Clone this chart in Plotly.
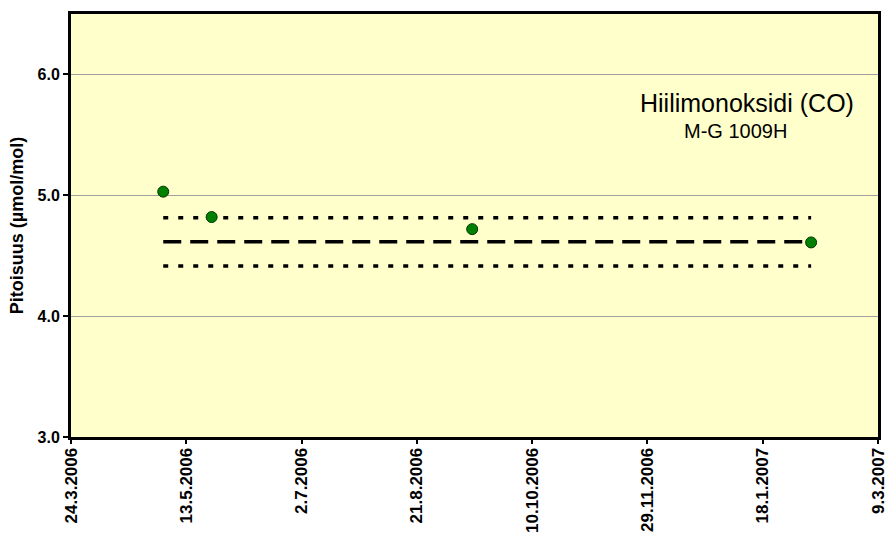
import plotly.graph_objects as go

# Mittaukset
paivat = ["2006-05-03", "2006-05-24", "2006-09-14", "2007-02-08"]
pitoisuus = [5.03, 4.82, 4.72, 4.61]

# Vertailuarvo ja rajat
keskiarvo = 4.615
ylaraja = 4.815
alaraja = 4.415

# x-akselin tikit (49 pv valein)
tick_paivat = ["2006-03-24", "2006-05-13", "2006-07-02", "2006-08-21",
               "2006-10-10", "2006-11-29", "2007-01-18", "2007-03-09"]
tick_tekstit = ["24.3.2006", "13.5.2006", "2.7.2006", "21.8.2006",
                "10.10.2006", "29.11.2006", "18.1.2007", "9.3.2007"]

fig = go.Figure()

alku, loppu = paivat[0], paivat[-1]
for arvo, viiva in [(ylaraja, "5px,10px"), (alaraja, "5px,10px"), (keskiarvo, "18px,9px")]:
    fig.add_trace(go.Scatter(
        x=[alku, loppu], y=[arvo, arvo], mode="lines",
        line=dict(color="black", width=3.5, dash=viiva),
        showlegend=False, hoverinfo="skip"
    ))

fig.add_trace(go.Scatter(
    x=paivat, y=pitoisuus, mode="markers",
    marker=dict(size=11, color="#008000", line=dict(color="#003300", width=1)),
    showlegend=False
))

fig.add_annotation(x=0.838, y=0.79, xref="paper", yref="paper",
                   xanchor="center", yanchor="middle",
                   text="Hiilimonoksidi (CO)", showarrow=False,
                   font=dict(size=25, color="black"))
fig.add_annotation(x=0.823, y=0.723, xref="paper", yref="paper",
                   xanchor="center", yanchor="middle",
                   text="M-G 1009H", showarrow=False,
                   font=dict(size=20, color="black"))

fig.update_layout(
    width=886, height=541,
    margin=dict(l=71, r=8, t=14, b=104),
    paper_bgcolor="white",
    plot_bgcolor="#FFFFCC",
    font=dict(family="Liberation Sans, Arial, sans-serif", color="black"),
    xaxis=dict(
        range=[tick_paivat[0], tick_paivat[-1]],
        tickvals=tick_paivat, ticktext=tick_tekstit,
        tickangle=-90, tickfont=dict(size=17, weight="bold"),
        ticklabeloverflow="allow", ticklabelstandoff=-3,
        showgrid=False, zeroline=False, automargin=False,
        showline=True, linecolor="black", linewidth=3, mirror=True,
        ticks="outside", ticklen=4, tickwidth=2, tickcolor="black",
    ),
    yaxis=dict(
        range=[3.0, 6.5],
        tickvals=[3, 4, 5, 6], tickformat=".1f",
        tickfont=dict(size=16, weight="bold"), automargin=False,
        title=dict(text="Pitoisuus (µmol/mol)", font=dict(size=18, weight="bold"), standoff=10),
        showgrid=True, gridcolor="#A0A0A0", gridwidth=1, zeroline=False,
        showline=True, linecolor="black", linewidth=3, mirror=True,
        ticks="outside", ticklen=5, tickwidth=2, tickcolor="black",
    ),
)

# sivun oletusmarginaali pois, jotta kuva alkaa kulmasta
fig.write_html("out.html", config={"displayModeBar": False},
               post_script="document.body.style.margin='0px';")
